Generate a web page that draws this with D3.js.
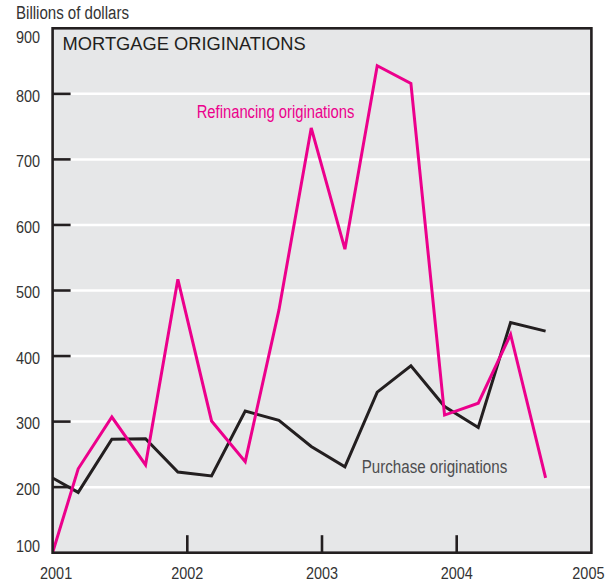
<!DOCTYPE html>
<html>
<head>
<meta charset="utf-8">
<script src="https://cdn.jsdelivr.net/npm/d3@7"></script>
<style>
  html, body { margin: 0; padding: 0; background: #ffffff; }
  svg { display: block; }
</style>
</head>
<body>
<div id="chart"></div>
<script>
// ---- data ----
const years = [2001.00, 2001.19, 2001.44, 2001.69, 2001.93, 2002.18, 2002.43, 2002.68,
               2002.92, 2003.17, 2003.41, 2003.66, 2003.91, 2004.16, 2004.40, 2004.66];
const refinancing = [100, 228, 307, 234, 517, 301, 239, 470, 748, 563, 843, 816, 310, 328, 433, 214];
const purchase    = [214, 192, 273, 274, 223, 217, 316, 302, 262, 231, 345, 385, 323, 291, 451, 438];
const xTicks = [2001, 2002, 2003, 2004, 2005];
const yTicks = [100, 200, 300, 400, 500, 600, 700, 800, 900];
const title = "MORTGAGE ORIGINATIONS";
const yUnit = "Billions of dollars";
const seriesLabels = ["Refinancing originations", "Purchase originations"];

// ---- layout ----
const W = 615, H = 586;
const m = { top: 28.3, right: 23.6, bottom: 33.3, left: 52.6 };
const iw = W - m.left - m.right, ih = H - m.top - m.bottom;
const ink = "#231f20", pink = "#ec008c", bg = "#e6e7e8", txt = "#333333";
const FONT = "'Liberation Sans', Arial, Helvetica, sans-serif";

const svg = d3.select("#chart").append("svg").attr("width", W).attr("height", H);
const g = svg.append("g").attr("transform", `translate(${m.left},${m.top})`);

const x = d3.scaleLinear().domain([2001, 2005]).range([0, iw]);
const y = d3.scaleLinear().domain([100, 900]).range([ih, 0]);

// condensed text helper (horizontal squeeze of a regular sans face)
function condText(parent, px, py, str, size, k, anchor, fill) {
  return parent.append("text")
    .attr("transform", `translate(${px},${py}) scale(${k},1)`)
    .attr("font-family", FONT).attr("font-size", size)
    .attr("text-anchor", anchor).attr("fill", fill)
    .text(str);
}

// plot background
g.append("rect").attr("width", iw).attr("height", ih).attr("fill", bg);

// white gridlines
g.append("g").selectAll("line").data(yTicks.filter(d => d > 100 && d < 900)).join("line")
  .attr("x1", 0).attr("x2", iw).attr("y1", d => y(d)).attr("y2", d => y(d))
  .attr("stroke", "#ffffff").attr("stroke-width", 2.5);

// inner tick marks (y)
g.append("g").selectAll("line").data(yTicks.filter(d => d > 100 && d < 900)).join("line")
  .attr("x1", 0).attr("x2", 18).attr("y1", d => y(d)).attr("y2", d => y(d))
  .attr("stroke", ink).attr("stroke-width", 2.6);

// inner tick marks (x)
g.append("g").selectAll("line").data(xTicks.filter(d => d > 2001 && d < 2005)).join("line")
  .attr("x1", d => x(d)).attr("x2", d => x(d)).attr("y1", ih).attr("y2", ih - 17.5)
  .attr("stroke", ink).attr("stroke-width", 2.6);

// clip for lines
svg.append("defs").append("clipPath").attr("id", "clip")
  .append("rect").attr("width", iw).attr("height", ih);

const line = d3.line().x((d, i) => x(years[i])).y(d => y(d)).curve(d3.curveLinear);

const lines = g.append("g").attr("clip-path", "url(#clip)");
lines.append("path").datum(purchase).attr("d", line)
  .attr("fill", "none").attr("stroke", ink).attr("stroke-width", 3).attr("stroke-linejoin", "miter");
lines.append("path").datum(refinancing).attr("d", line)
  .attr("fill", "none").attr("stroke", pink).attr("stroke-width", 3).attr("stroke-linejoin", "miter");

// frame
g.append("rect").attr("width", iw).attr("height", ih)
  .attr("fill", "none").attr("stroke", ink).attr("stroke-width", 2.6);

// y tick labels
const yNudge = v => v === 900 ? 8 : (v === 100 ? -7 : 1.5);
yTicks.forEach(v => {
  condText(g, -12.6, y(v) + yNudge(v) + 6.2, v, 17.2, 0.84, "end", txt);
});

// x tick labels
const xNudge = v => v === 2001 ? 3.5 : (v === 2005 ? -3 : 0);
xTicks.forEach(v => {
  condText(g, x(v) + xNudge(v), ih + 26.5, v, 17.2, 0.84, "middle", txt);
});

// unit label
condText(svg, 16, 19.3, yUnit, 18.6, 0.81, "start", txt);

// title
g.append("text")
  .attr("x", 10).attr("y", 21.8)
  .attr("font-family", FONT)
  .attr("font-size", 18.3).attr("fill", ink)
  .text(title);

// series labels
condText(svg, 196.7, 117.7, seriesLabels[0], 18.7, 0.79, "start", pink);
condText(svg, 361.7, 472.7, seriesLabels[1], 18.7, 0.81, "start", "#4d4d4f");
</script>
</body>
</html>
